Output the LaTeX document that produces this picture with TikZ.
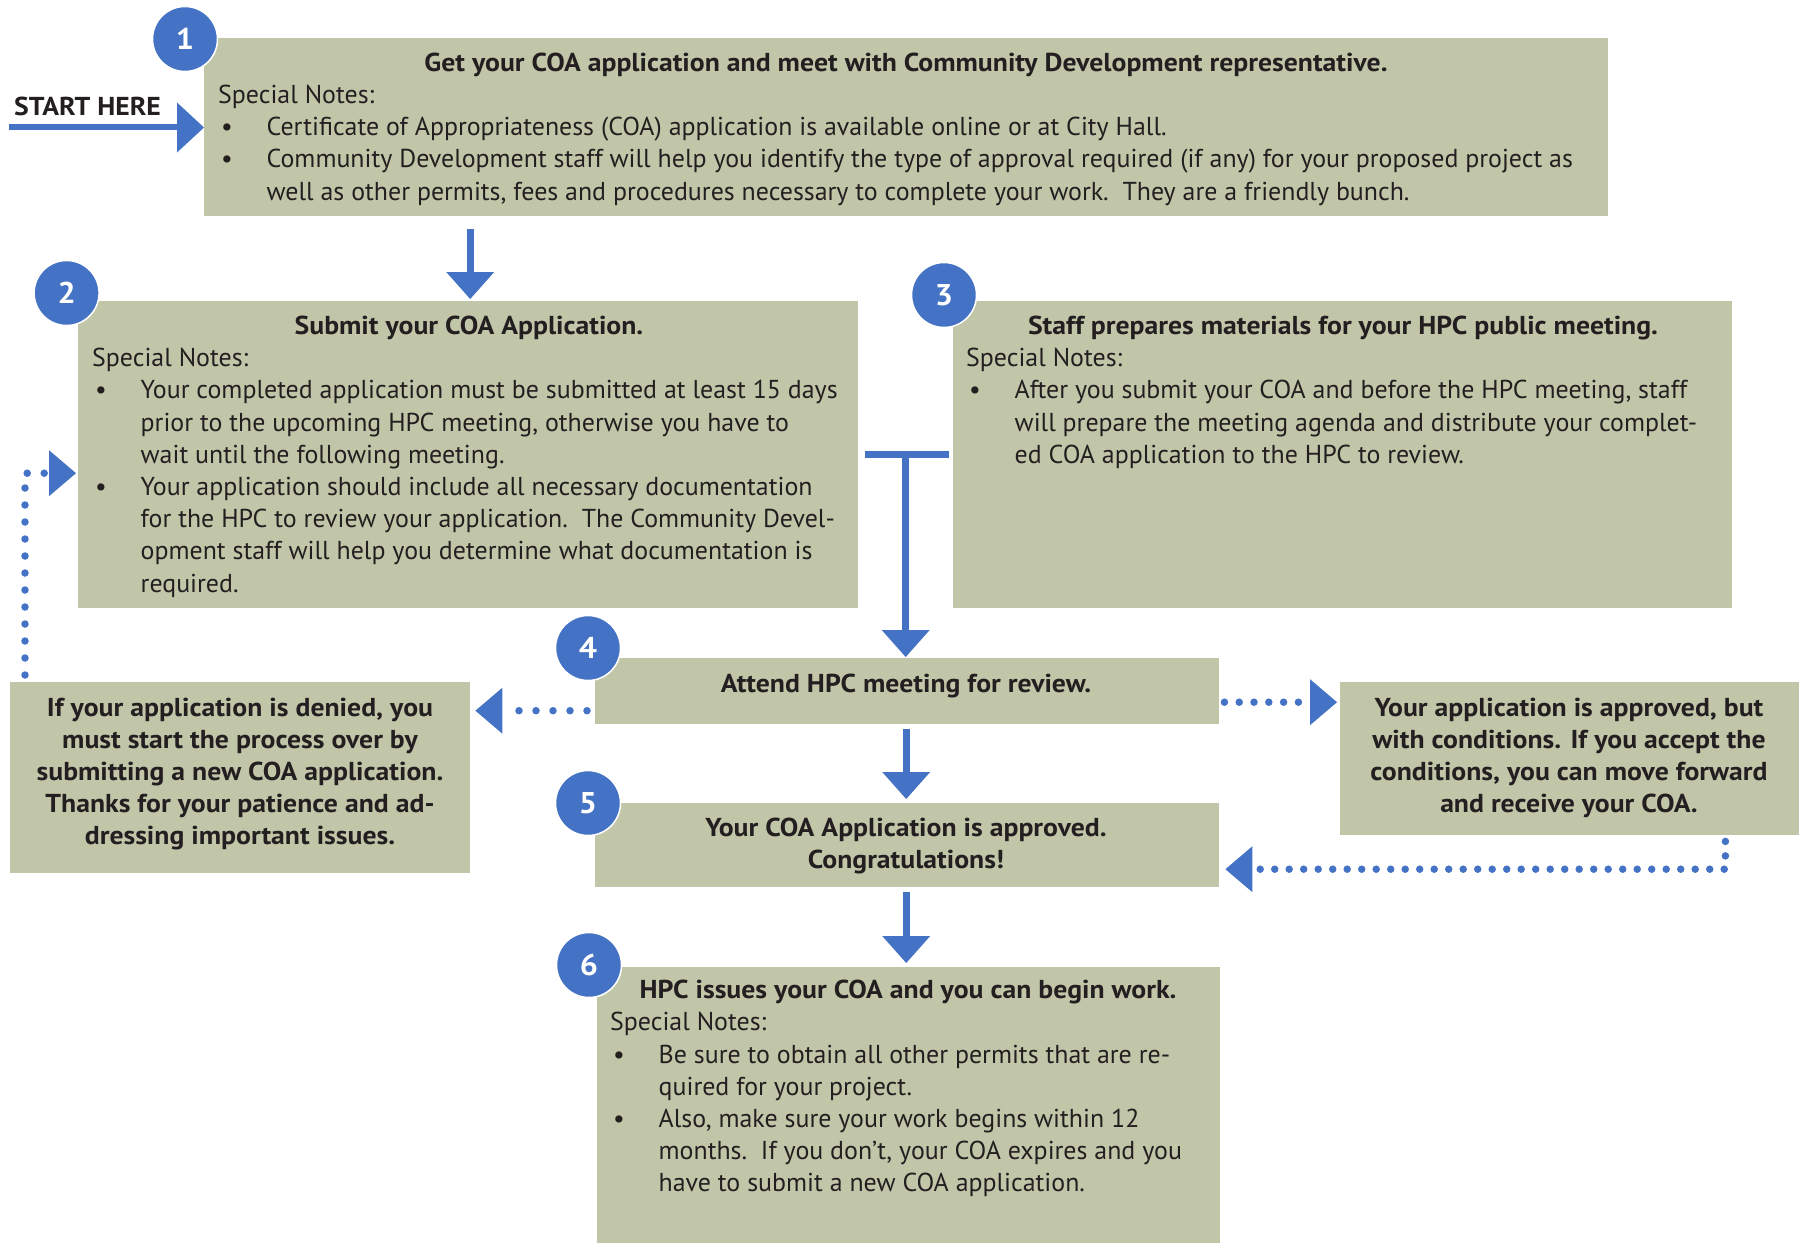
\documentclass[tikz,border=0pt]{standalone}
\usepackage{fontspec}
\setmainfont{PT Sans}[BoldFeatures={FakeStretch=1.07}]
\usetikzlibrary{arrows.meta,calc}
\definecolor{boxc}{HTML}{C2C6A9}
\definecolor{bluec}{HTML}{4472C4}
\definecolor{txtc}{HTML}{231F20}
\newcommand\bnote{\hspace*{3pt}\textbullet}
\newcommand\fsz{\fontsize{25.9}{32.2}\selectfont}
\tikzset{
 box/.style={rectangle, fill=boxc, inner sep=0pt, anchor=north west},
 txt/.style={inner sep=0pt, text=txtc, font=\fsz},
 btxt/.style={inner sep=0pt, text=txtc, font=\fsz\bfseries},
 num/.style={circle, fill=bluec, draw=white, line width=1.5pt, minimum size=65pt, inner sep=0pt, text=white, font=\fontsize{30}{32}\selectfont\bfseries},
 flow/.style={draw=bluec, line width=7pt, -{Triangle[width=48pt,length=27pt,line width=0pt]}},
 dots/.style={draw=bluec, line width=7.5pt, line cap=round, dash pattern=on 0pt off #1, -{Triangle[width=46pt,length=27pt,line width=0pt]}},
 dots/.default=14.5pt,
}
\begin{document}
\begin{tikzpicture}[x=1pt,y=-1pt]
\useasboundingbox (0,0) rectangle (1801,1244);
% boxes
\node[box, minimum width=1404pt, minimum height=178pt] (b1) at (204,38) {};
\node[box, minimum width=780pt, minimum height=307pt] (b2) at (78,301) {};
\node[box, minimum width=779pt, minimum height=307pt] (b3) at (953,301) {};
\node[box, minimum width=624pt, minimum height=66pt] (b4) at (595,658) {};
\node[box, minimum width=624pt, minimum height=84pt] (b5) at (595,803) {};
\node[box, minimum width=623pt, minimum height=276pt] (b6) at (597,967) {};
\node[box, minimum width=460pt, minimum height=191pt] (d) at (10,682) {};
\node[box, minimum width=459pt, minimum height=153pt] (ap) at (1340,682) {};
% start
\node[btxt, anchor=base west] (start) at (14,116) {START HERE};
\coordinate (s0) at (9,127.5);
\draw[flow, line width=6pt, -{Triangle[width=50pt,length=27pt,line width=0pt]}] (s0) -- (s0 -| b1.west);
% box 1 text
\node[btxt, anchor=base] (t1) at (906,71.5) {Get your COA application and meet with Community Development representative.};
\node[txt, anchor=base west] (n1) at (218,103.5) {\begin{tabular}[t]{@{}p{48.5pt}@{}l@{}}
\multicolumn{2}{@{}l@{}}{Special Notes:}\\
\bnote & Certificate of Appropriateness (COA) application is available online or at City Hall.\\
\bnote & Community Development staff will help you identify the type of approval required (if any) for your proposed project as\\
 & well as other permits, fees and procedures necessary to complete your work.\ \ They are a friendly bunch.
\end{tabular}};
% box 2 text
\node[btxt, anchor=base] (t2) at (469,334.5) {Submit your COA Application.};
\node[txt, anchor=base west] (n2) at (92,366.7) {\begin{tabular}[t]{@{}p{48.5pt}@{}l@{}}
\multicolumn{2}{@{}l@{}}{Special Notes:}\\
\bnote & Your completed application must be submitted at least 15 days\\
 & prior to the upcoming HPC meeting, otherwise you have to\\
 & wait until the following meeting.\\
\bnote & Your application should include all necessary documentation\\
 & for the HPC to review your application.\ \ The Community Devel-\\
 & opment staff will help you determine what documentation is\\
 & required.
\end{tabular}};
% box 3 text
\node[btxt, anchor=base] (t3) at (1343,334.5) {Staff prepares materials for your HPC public meeting.};
\node[txt, anchor=base west] (n3) at (966,366.7) {\begin{tabular}[t]{@{}p{48.5pt}@{}l@{}}
\multicolumn{2}{@{}l@{}}{Special Notes:}\\
\bnote & After you submit your COA and before the HPC meeting, staff\\
 & will prepare the meeting agenda and distribute your complet-\\
 & ed COA application to the HPC to review.
\end{tabular}};
% box 4, 5
\node[btxt, anchor=base] (t4) at (906,692) {Attend HPC meeting for review.};
\node[btxt, anchor=base] (t5) at (906,836.5) {\begin{tabular}[t]{@{}c@{}}Your COA Application is approved.\\ Congratulations!\end{tabular}};
% box 6
\node[btxt, anchor=base] (t6) at (908,998.5) {HPC issues your COA and you can begin work.};
\node[txt, anchor=base west] (n6) at (610,1030.8) {\begin{tabular}[t]{@{}p{48.5pt}@{}l@{}}
\multicolumn{2}{@{}l@{}}{Special Notes:}\\
\bnote & Be sure to obtain all other permits that are re-\\
 & quired for your project.\\
\bnote & Also, make sure your work begins within 12\\
 & months.\ \ If you don’t, your COA expires and you\\
 & have to submit a new COA application.
\end{tabular}};
% denied / approved
\node[btxt, anchor=base] (td) at (240,716) {\begin{tabular}[t]{@{}c@{}}If your application is denied, you\\ must start the process over by\\ submitting a new COA application.\\ Thanks for your patience and ad-\\ dressing important issues.\end{tabular}};
\node[btxt, anchor=base] (ta) at (1569,716) {\begin{tabular}[t]{@{}c@{}}Your application is approved, but\\ with conditions. If you accept the\\ conditions, you can move forward\\ and receive your COA.\end{tabular}};
% numbers
\node[num] (c1) at (185,39) {1};
\node[num] (c2) at (66.6,293) {2};
\node[num] (c3) at (944,295) {3};
\node[num] (c4) at (588,648) {4};
\node[num] (c5) at (588,803) {5};
\node[num] (c6) at (589,965) {6};
% solid connectors
\draw[flow] ($(b1.south -| b2.north)+(2,12.6)$) -- ($(b2.north)+(2,-2)$);
\coordinate (tj) at ($(b2.east)!0.5!(b3.west)$);
\draw[bluec, line width=7pt] ($(tj)+(-41,0)$) -- ($(tj)+(43,0)$);
\draw[flow] (tj) -- ($(tj |- b4.north)+(0,-1)$);
\draw[flow] ($(b4.south)+(-1,5)$) -- ($(b5.north)+(-1,-4)$);
\draw[flow] ($(b5.south)+(-1,5)$) -- ($(b5.south |- b6.north)+(-1,-4)$);
% dotted connectors
\draw[dots=17pt] ($(b4.west)+(-8,19.5)$) -- ($(d.east |- b4.west)+(5,19.5)$);
\draw[dots=14.8pt] ($(b4.east)+(5,11)$) -- ($(ap.west |- b4.east)+(-3,11)$);
\draw[dots] ($(ap.south east)+(-74,6)$) -- ($(ap.south east |- b5.east)+(-74,24)$) -- ($(b5.east)+(6,24)$);
\draw[dots=17pt] ($(d.north west)+(15,-7)$) -- ($(d.north west |- b2.west)+(15,18.5)$) -- ($(b2.west)+(-2,18.5)$);
\end{tikzpicture}
\end{document}
